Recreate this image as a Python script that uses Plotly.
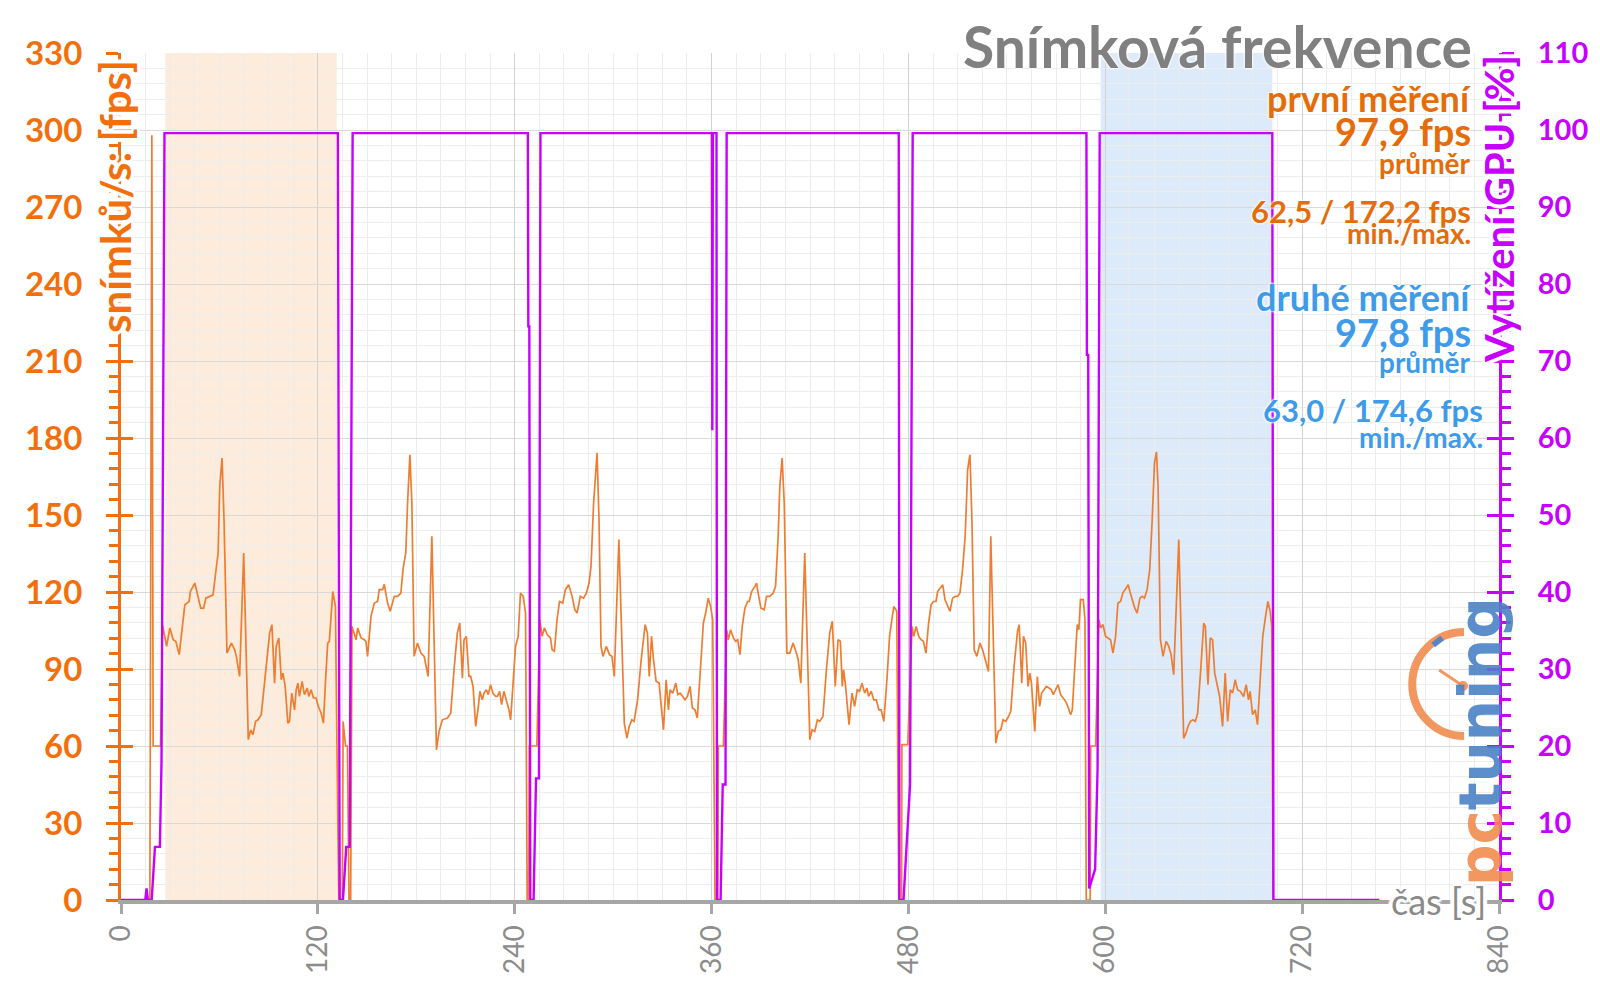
import plotly.graph_objects as go

# ---------------- data ----------------
intro_t = [0, 17.6, 18.8, 19.6]
intro_fps = [0, 0, 298, 60]

run1_t = [24.1, 25.3, 27.8, 29.8, 31.8, 33.4, 35.5, 37.5, 38.9, 41.5, 42.3, 45.0, 47.0, 48.6, 50.4,
          51.7, 54.1, 56.1, 57.7, 59.2, 60.2, 61.6, 62.8, 64.6, 67.3, 69.3, 70.3, 72.3, 74.8, 77.6,
          79.0, 80.4, 82.1, 83.5, 85.5, 88.1, 90.6, 92.0, 93.6, 94.6, 96.2, 97.7, 98.7, 100.1, 101.7,
          102.7, 104.1, 105.8, 106.8, 107.8, 108.8, 110.4, 111.8, 113.5, 114.5, 115.9, 117.3, 118.9,
          120.3, 122.0, 123.4, 124.6, 126.0, 127.0, 129.1, 130.7, 132.7]
run1_fps = [60, 107.3, 98.8, 106.0, 101.4, 100.8, 95.6, 106.6, 115.0, 116.3, 120.2, 123.5, 118.3,
            113.7, 113.7, 117.6, 118.3, 118.9, 127.4, 135.2, 161.2, 172.2, 148.2, 96.2, 100.1, 97.5,
            94.9, 87.1, 135.2, 62.5, 66.3, 64.4, 69.6, 70.2, 72.2, 89.7, 104.0, 107.3, 84.5, 98.8,
            102.1, 85.8, 88.4, 83.2, 68.9, 69.6, 80.6, 74.1, 81.9, 84.5, 79.3, 85.2, 80.0, 82.6, 79.3,
            81.9, 78.7, 78.7, 75.4, 72.8, 68.9, 84.5, 100.1, 100.8, 120.2, 114.4, 0]

gap1_t = [134.9, 135.4, 136.9, 138.0, 139.0, 140.0]
gap1_fps = [0, 69.5, 60, 60, 0, 0]

run2_t = [140.8, 143.3, 144.3, 146.3, 148.3, 149.3, 150.3, 152.4, 154.4, 156.4, 157.4, 159.5, 160.5,
          162.5, 164.1, 166.6, 168.6, 170.6, 172.0, 173.6, 174.7, 176.1, 177.3, 178.7, 180.7, 182.8,
          184.8, 187.2, 189.5, 192.3, 193.9, 195.9, 199.0, 201.0, 203.0, 205.0, 206.5, 208.1, 209.1,
          210.5, 212.1, 213.2, 214.6, 216.2, 217.6, 218.8, 220.2, 221.3, 222.7, 223.9, 225.3, 226.7,
          228.4, 229.4, 230.8, 232.0, 233.4, 234.8, 236.5, 237.5, 238.9, 240.5, 242.1, 243.5, 245.2,
          246.6, 247.6]
run2_fps = [106.6, 101.4, 106.0, 102.1, 101.4, 100.8, 94.9, 110.5, 115.7, 116.3, 120.9, 120.9, 123.0,
            115.7, 112.5, 118.3, 118.3, 119.6, 129.3, 135.2, 154.7, 173.5, 154.7, 94.9, 100.1, 96.2,
            94.9, 87.1, 141.7, 58.5, 65.7, 70.2, 70.9, 72.8, 89.7, 104.0, 107.9, 86.4, 101.4, 102.7,
            87.1, 87.1, 83.2, 67.6, 74.1, 81.3, 78.0, 80.6, 81.9, 80.0, 83.9, 80.6, 79.3, 79.3, 81.3,
            76.1, 81.3, 78.0, 74.1, 70.2, 84.5, 98.8, 102.7, 119.6, 118.3, 111.8, 0]

gap2_t = [248.5, 248.9, 253.5]
gap2_fps = [0, 60, 60]

run3_t = [255.3, 256.7, 258.1, 259.8, 261.8, 262.8, 264.2, 265.8, 267.3, 269.3, 270.9, 272.9, 275.0,
          276.6, 278.0, 280.0, 282.0, 283.7, 285.3, 286.5, 288.1, 290.2, 291.4, 292.6, 293.8, 295.8,
          297.8, 299.3, 300.7, 303.5, 306.8, 308.4, 309.8, 311.4, 312.8, 314.9, 317.1, 319.5, 320.9,
          322.0, 323.4, 324.6, 326.2, 328.0, 330.7, 332.3, 333.7, 334.7, 336.3, 338.2, 339.4, 340.8,
          342.4, 343.8, 345.3, 346.9, 348.3, 349.9, 351.3, 353.0, 355.0, 356.6, 358.0, 359.4, 360.7,
          362.1]
run3_fps = [109.2, 102.7, 106.0, 103.4, 102.1, 97.5, 96.9, 109.2, 116.3, 115.7, 120.9, 122.8, 118.3,
            113.1, 111.8, 118.3, 117.6, 119.6, 123.5, 130.0, 154.7, 174.2, 148.2, 98.8, 94.9, 98.8,
            95.6, 94.9, 87.1, 140.4, 68.9, 63.1, 67.6, 70.2, 69.6, 78.0, 93.6, 107.3, 104.0, 87.1,
            102.7, 93.6, 85.2, 84.5, 66.3, 85.8, 74.1, 81.9, 80.6, 84.5, 80.0, 80.6, 79.3, 78.0, 79.3,
            83.2, 74.8, 74.1, 70.9, 88.4, 107.9, 112.5, 117.6, 114.4, 109.2, 0]

gap3_t = [363.8, 364.1, 367.2]
gap3_fps = [0, 60, 60]

run4_t = [369.2, 370.2, 371.6, 373.3, 374.7, 375.9, 377.3, 378.7, 380.3, 382.0, 383.0, 384.4, 386.4,
          387.4, 388.4, 390.1, 392.1, 393.5, 395.5, 397.6, 399.0, 400.6, 401.6, 403.0, 404.3, 405.9,
          407.7, 409.7, 411.7, 412.8, 414.4, 416.8, 419.9, 421.3, 422.9, 424.5, 425.9, 427.9, 430.0,
          432.0, 433.6, 435.4, 437.1, 438.5, 439.7, 440.5, 441.7, 443.8, 445.6, 447.2, 448.8, 450.2,
          451.7, 453.3, 454.7, 455.7, 457.3, 458.9, 460.4, 462.0, 463.4, 465.0, 466.9, 468.5, 469.9,
          471.1, 472.9, 474.1]
run4_fps = [105.3, 101.4, 105.3, 102.1, 100.8, 101.4, 95.6, 106.6, 113.7, 116.3, 116.3, 120.2, 122.2,
            123.5, 119.6, 113.7, 113.1, 118.3, 118.3, 119.6, 122.2, 141.7, 161.2, 172.2, 154.7, 96.2,
            96.2, 100.1, 96.2, 93.6, 84.5, 135.2, 62.4, 66.3, 65.7, 70.2, 69.6, 71.5, 89.7, 104.0,
            108.6, 83.2, 101.4, 100.8, 83.2, 89.7, 83.2, 68.3, 80.6, 75.4, 81.9, 81.3, 84.5, 80.6,
            82.6, 79.3, 81.3, 78.0, 78.0, 74.1, 74.1, 69.6, 85.8, 102.7, 109.2, 114.4, 112.5, 0]

gap4_t = [475.8, 476.0, 479.6]
gap4_fps = [0, 60.5, 60.5]

run5_t = [482.2, 483.2, 484.7, 486.3, 487.7, 489.1, 490.7, 492.2, 493.8, 495.2, 496.8, 497.8, 499.2,
          500.9, 502.3, 503.9, 505.3, 506.9, 508.6, 510.0, 511.4, 513.0, 514.6, 516.1, 517.5, 518.7,
          520.1, 521.7, 523.6, 525.2, 527.2, 528.8, 530.2, 533.3, 534.7, 536.3, 537.7, 539.4, 541.0,
          542.4, 544.4, 546.5, 547.5, 549.1, 550.1, 551.5, 552.9, 554.0, 555.0, 557.0, 558.6, 560.0,
          561.2, 562.7, 564.1, 565.7, 567.1, 568.3, 569.8, 571.2, 572.8, 574.2, 575.8, 577.2, 578.9,
          579.9, 581.5, 582.9, 583.9, 584.9, 586.6, 587.6, 588.4]
run5_fps = [106.6, 102.7, 106.6, 102.7, 101.4, 100.8, 96.2, 107.3, 115.0, 116.3, 116.3, 120.2, 121.5,
            122.8, 117.0, 114.4, 112.5, 117.6, 118.3, 118.3, 119.6, 128.7, 141.7, 167.7, 173.5, 148.2,
            97.5, 94.9, 100.1, 97.5, 92.3, 89.0, 141.7, 61.1, 65.7, 66.3, 70.2, 69.6, 71.5, 73.5, 91.0,
            104.7, 107.3, 84.5, 102.7, 100.1, 83.2, 88.4, 84.5, 65.7, 87.1, 75.4, 80.6, 81.9, 83.2,
            82.6, 81.9, 80.0, 81.9, 83.9, 80.0, 78.7, 77.4, 75.4, 72.2, 74.1, 91.0, 107.3, 105.3,
            117.0, 117.0, 109.2, 0]

gap5_t = [590.8, 591.1, 594.1]
gap5_fps = [0, 60, 60]

run6_t = [596.1, 597.2, 598.6, 600.2, 601.6, 603.2, 604.7, 606.3, 607.7, 609.3, 610.7, 612.4, 614.0,
          615.0, 616.4, 618.0, 619.4, 621.1, 622.5, 623.9, 625.5, 627.1, 628.6, 630.0, 631.2, 632.2,
          633.6, 635.2, 637.1, 638.7, 640.1, 641.7, 644.8, 647.8, 649.2, 650.4, 651.9, 653.5, 654.9,
          656.3, 658.3, 660.0, 661.0, 662.6, 664.0, 665.4, 666.7, 668.1, 669.7, 671.5, 673.1, 674.6,
          676.2, 677.6, 679.2, 680.6, 682.3, 684.3, 685.9, 687.3, 688.3, 689.8, 691.4, 692.8, 694.4,
          696.0, 697.7, 699.1, 700.5, 701.5]
run6_fps = [109.2, 106.0, 107.3, 102.7, 102.1, 101.4, 96.2, 102.7, 115.7, 116.3, 119.6, 121.5, 122.8,
            120.2, 117.0, 113.7, 111.8, 117.6, 118.3, 117.6, 120.9, 128.7, 148.2, 170.3, 174.6, 161.2,
            101.4, 94.9, 100.8, 98.8, 95.6, 87.8, 140.4, 63.0, 65.0, 67.6, 69.6, 70.2, 69.6, 72.8,
            91.0, 107.9, 106.6, 83.9, 102.1, 101.4, 88.4, 84.5, 79.3, 67.6, 88.4, 69.6, 81.9, 80.6,
            85.8, 81.9, 81.3, 79.3, 83.9, 78.0, 81.3, 72.2, 74.1, 68.3, 88.4, 102.7, 110.5, 116.3,
            112.5, 106.6]

outro_t = [702.3]
outro_fps = [0]

gpu_t = [0, 14.8, 15.6, 16.4, 18.7, 20.7, 23.7, 24.7, 26.5,
         132.2, 133.3, 135.3, 137.3, 139.4, 141.2,
         248.0, 248.3, 248.9, 249.5, 251.5, 253.0, 254.8, 255.7,
         360.2, 360.45, 360.6, 360.8, 363.0, 363.3, 365.5, 366.8, 368.5, 369.2,
         474.1, 474.5, 477.0, 479.0, 481.0, 482.6,
         588.5, 588.8, 589.6, 590.2, 593.8, 595.3, 596.6,
         701.8, 702.5, 767.0]
gpu_load = [0, 0, 1.5, 0, 0, 6.9, 6.9, 18, 99.6,
            99.6, 0, 0, 6.9, 6.9, 99.6,
            99.6, 74.5, 74.5, 0, 0, 15.8, 15.8, 99.6,
            99.6, 61, 79, 99.6, 99.6, 0, 0, 15, 15, 99.6,
            99.6, 0, 0, 7, 15, 99.6,
            99.6, 70.8, 70.8, 1.5, 4, 17, 99.6,
            99.6, 0, 0]

first_span = [27.0, 131.5]
second_span = [597.2, 701.8]

x_ticks = [0, 120, 240, 360, 480, 600, 720, 840]

title_text = "Snímková frekvence"
left_title = "snímků/s: [fps]"
right_title = "Vytížení GPU [%]"
x_title = "čas [s]"
stats_first = ["první měření", "97,9 fps", "průměr", "62,5 / 172,2 fps", "min./max."]
stats_second = ["druhé měření", "97,8 fps", "průměr", "63,0 / 174,6 fps", "min./max."]

fps_t = intro_t + run1_t + gap1_t + run2_t + gap2_t + run3_t + gap3_t + run4_t + gap4_t + run5_t + gap5_t + run6_t + outro_t
fps_v = intro_fps + run1_fps + gap1_fps + run2_fps + gap2_fps + run3_fps + gap3_fps + run4_fps + gap4_fps + run5_fps + gap5_fps + run6_fps + outro_fps

# ---------------- styling ----------------
ORANGE_AX = "#F36F0C"
ORANGE_LINE = "#EE7D31"
ORANGE_TXT = "#E46C0A"
BLUE_TXT = "#3D9BEA"
PURPLE = "#C800FF"
GREY = "#8C8C8C"
FONT = "Lato"
HALO = "0px 0px 3px #ffffff, 0px 0px 3px #ffffff, 0px 0px 2px #ffffff"
HALO_STRONG = ", ".join("{}px {}px 1px #ffffff".format(dx, dy) for dx, dy in
                        [(3, 0), (-3, 0), (0, 3), (0, -3), (2, 2), (-2, -2), (2, -2), (-2, 2), (4, 0), (-4, 0)])

W, H = 1600, 998
ML, MR, MT, MB = 121, 97, 53, 98
PW, PH = W - ML - MR, H - MT - MB


def fx(px):
    return (px - ML) / PW


def fy(py):
    return (H - MB - py) / PH


fig = go.Figure()
fig.add_trace(go.Scatter(x=fps_t, y=fps_v, mode="lines", yaxis="y",
                         line=dict(color=ORANGE_LINE, width=1.7),
                         cliponaxis=False, showlegend=False, hoverinfo="skip"))
fig.add_trace(go.Scatter(x=gpu_t, y=gpu_load, mode="lines", yaxis="y2",
                         line=dict(color=PURPLE, width=2.4),
                         cliponaxis=False, showlegend=False, hoverinfo="skip"))
# dummy traces to activate the tick-overlay axes
fig.add_trace(go.Scatter(x=[0], y=[0], yaxis="y3", mode="markers", marker=dict(opacity=0),
                         showlegend=False, hoverinfo="skip"))
fig.add_trace(go.Scatter(x=[0], y=[0], yaxis="y4", mode="markers", marker=dict(opacity=0),
                         showlegend=False, hoverinfo="skip"))

shapes = [
    dict(type="rect", xref="x", yref="paper", x0=first_span[0], x1=first_span[1], y0=0, y1=1,
         fillcolor="#FDEBDB", line=dict(width=0), layer="below"),
    dict(type="rect", xref="x", yref="paper", x0=second_span[0], x1=second_span[1], y0=0, y1=1,
         fillcolor="#DCEAF9", line=dict(width=0), layer="below"),
]

# logo: clock arc (semicircle on the left side)
cx, cy, r, k = 1468, 684, 52, 0.5523
pts = [(cx, cy - r), (cx - k * r, cy - r), (cx - r, cy - k * r), (cx - r, cy),
       (cx - r, cy + k * r), (cx - k * r, cy + r), (cx, cy + r)]
pp = [(fx(a), fy(b)) for a, b in pts]
arc = "M {0[0]},{0[1]} C {1[0]},{1[1]} {2[0]},{2[1]} {3[0]},{3[1]} C {4[0]},{4[1]} {5[0]},{5[1]} {6[0]},{6[1]}".format(*pp)
shapes.append(dict(type="path", xref="paper", yref="paper", path=arc,
                   line=dict(color="#F08C4E", width=8), layer="above", opacity=0.9))
shapes.append(dict(type="line", xref="paper", yref="paper", x0=fx(1443), y0=fy(670), x1=fx(1467), y1=fy(686),
                   line=dict(color="#F08C4E", width=3), layer="above", opacity=0.9))
shapes.append(dict(type="circle", xref="paper", yref="paper", x0=fx(1462), y0=fy(681), x1=fx(1472), y1=fy(691),
                   fillcolor="#F08C4E", line=dict(width=0), layer="above", opacity=0.9))
shapes.append(dict(type="line", xref="paper", yref="paper", x0=fx(1437), y0=fy(645), x1=fx(1446), y1=fy(638),
                   line=dict(color="#4A82C6", width=6), layer="above", opacity=0.9))

annotations = []


def ann(text, x, y, size, color, xanchor="right", weight="bold", angle=0, family=FONT, halo=HALO, **kw):
    f = dict(family=family, size=size, color=color, weight=weight)
    if halo:
        f["shadow"] = halo
    annotations.append(dict(text=text, x=x, y=y, xref="paper", yref="paper", xanchor=xanchor,
                            yanchor="middle", showarrow=False, textangle=angle, font=f, **kw))


ann(title_text, fx(1478), fy(46), 57, "#808080")
ys1 = [98, 131, 163, 211, 233]
ys2 = [297, 332, 362, 410, 437]
sizes = [36, 38, 28, 31, 28]
for i in range(5):
    ann(stats_first[i], fx(1477), fy(ys1[i]), sizes[i], ORANGE_TXT)
for i in range(5):
    xr = 1477 if i < 3 else 1489
    ann(stats_second[i], fx(xr), fy(ys2[i]), sizes[i], BLUE_TXT)

ann(left_title, fx(115), fy(197), 42, ORANGE_AX, xanchor="center", angle=-90, halo=HALO_STRONG)
ann(right_title, fx(1503), fy(209), 40, PURPLE, xanchor="center", angle=-90, halo=HALO_STRONG)
ann(x_title, fx(1442), fy(901), 36, "#8A8A8A", xanchor="center", weight="normal", halo=HALO_STRONG)
# logo text
annotations.append(dict(text='<span style="color:#F08C4E">pc</span><span style="color:#4A82C6">tuning</span>',
                        x=fx(1485), y=fy(742), xref="paper", yref="paper", xanchor="center", yanchor="middle",
                        showarrow=False, textangle=-90, opacity=0.9,
                        font=dict(family="DejaVu Sans", size=58, weight="bold")))

fig.update_layout(
    width=W, height=H, autosize=False,
    margin=dict(l=ML, r=MR, t=MT, b=MB, pad=0),
    paper_bgcolor="white", plot_bgcolor="white",
    showlegend=False, hovermode=False,
    shapes=shapes, annotations=annotations,
    xaxis=dict(range=[0, 840], tickvals=x_ticks, showgrid=True, gridcolor="#d2d2d2", gridwidth=1.3,
               minor=dict(dtick=15, tick0=0, showgrid=True, gridcolor="#ececec", gridwidth=1),
               ticks="outside", ticklen=10, tickwidth=3, tickcolor="#a6a6a6", tickangle=-90,
               tickfont=dict(family=FONT, size=28, color=GREY),
               showline=True, linecolor="#a6a6a6", linewidth=4, zeroline=False,
               layer="below traces", fixedrange=True),
    yaxis=dict(range=[0, 330], dtick=30, tick0=0, showgrid=True, gridcolor="#d9d9d9", gridwidth=1.3,
               minor=dict(dtick=6, tick0=0, showgrid=True, gridcolor="#ededed", gridwidth=1,
                          ticks="outside", ticklen=9, tickwidth=2.5, tickcolor=ORANGE_AX),
               ticks="outside", ticklen=12, tickwidth=3, tickcolor=ORANGE_AX,
               tickfont=dict(family=FONT, size=33, color=ORANGE_AX, weight="bold"),
               ticklabelstandoff=17,
               showline=True, linecolor=ORANGE_AX, linewidth=3, zeroline=False, fixedrange=True),
    yaxis2=dict(range=[0, 110], dtick=10, tick0=0, overlaying="y", side="right", showgrid=False,
                minor=dict(dtick=2, tick0=0, showgrid=False, ticks="outside", ticklen=9, tickwidth=2.5,
                           tickcolor=PURPLE),
                ticks="outside", ticklen=12, tickwidth=3, tickcolor=PURPLE,
                tickfont=dict(family=FONT, size=29, color=PURPLE, weight="bold"),
                ticklabelstandoff=18,
                showline=True, linecolor=PURPLE, linewidth=3, zeroline=False, fixedrange=True),
    yaxis3=dict(range=[0, 330], dtick=30, tick0=0, overlaying="y", side="left", showgrid=False,
                ticks="inside", ticklen=12, tickwidth=3, tickcolor=ORANGE_AX, showticklabels=False,
                showline=False, zeroline=False, fixedrange=True),
    yaxis4=dict(range=[0, 110], dtick=10, tick0=0, overlaying="y", side="right", showgrid=False,
                ticks="inside", ticklen=12, tickwidth=3, tickcolor=PURPLE, showticklabels=False,
                showline=False, zeroline=False, fixedrange=True),
)

fig.write_html("out.html", config={"displayModeBar": False},
               post_script="document.body.style.margin='0';document.body.style.overflow='hidden';")
